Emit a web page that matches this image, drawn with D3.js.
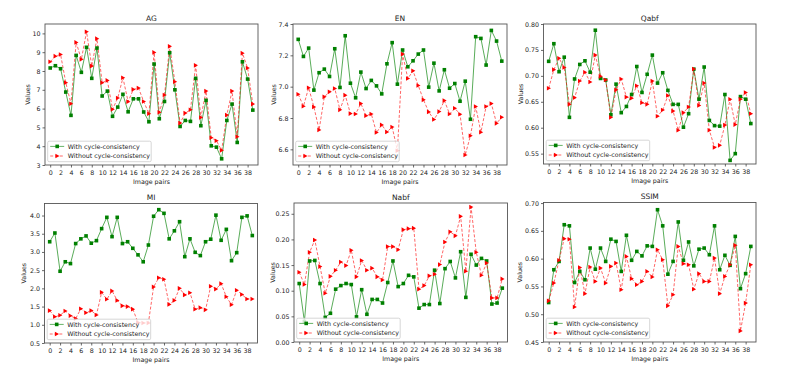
<!DOCTYPE html>
<html><head><meta charset="utf-8">
<script src="https://cdn.jsdelivr.net/npm/d3@7"></script>
<style>body{margin:0;background:#fff}svg{display:block}</style>
</head><body>
<svg id="c" width="807" height="376"></svg>
<script>
const imagePairs = [0,1,2,3,4,5,6,7,8,9,10,11,12,13,14,15,16,17,18,19,20,21,22,23,24,25,26,27,28,29,30,31,32,33,34,35,36,37,38,39];
const xTickValues = [0,2,4,6,8,10,12,14,16,18,20,22,24,26,28,30,32,34,36,38];
const seriesNames = ["With cycle-consistency", "Without cycle-consistency"];

const agWith = [8.16,8.28,8.12,6.88,5.64,8.83,7.93,9.26,7.61,9.22,6.67,6.93,5.59,6.08,6.76,5.83,6.52,6.52,5.82,5.30,8.37,5.46,6.38,8.97,7.00,5.05,5.37,5.32,7.61,5.09,6.44,4.02,3.95,3.33,5.37,6.24,4.20,8.49,7.57,5.92];
const agWithout = [8.49,8.79,8.88,7.38,6.26,9.52,8.62,10.09,8.26,9.72,7.38,7.50,5.96,6.56,7.64,6.37,7.02,7.09,6.38,5.73,8.99,5.80,6.72,9.31,7.43,5.23,5.76,5.94,8.30,5.53,6.93,4.45,4.29,3.78,5.66,6.93,4.50,8.95,8.16,6.24];
const agTicks = [3,4,5,6,7,8,9,10];

const enWith = [7.302,7.193,7.246,6.978,7.089,7.112,7.065,7.242,6.995,7.325,7.022,6.929,7.093,6.988,7.040,7.005,6.954,7.146,7.281,7.016,7.234,7.127,7.165,7.208,7.234,6.997,7.150,6.973,7.108,6.990,7.020,6.907,7.035,6.792,7.319,7.308,7.138,7.359,7.291,7.163];
const enWithout = [6.952,6.875,6.993,6.871,6.724,6.935,6.967,6.988,6.852,6.946,6.828,6.826,6.892,6.815,6.826,6.707,6.756,6.711,6.743,6.591,7.208,7.052,7.101,7.007,6.916,6.839,6.790,6.841,6.911,6.826,6.862,6.824,6.564,6.687,6.873,6.709,6.873,6.892,6.766,6.805];
const enTicks = [6.6,6.8,7.0,7.2,7.4];

const qabfWith = [0.728,0.762,0.708,0.736,0.620,0.694,0.722,0.729,0.707,0.788,0.695,0.692,0.625,0.684,0.629,0.641,0.664,0.718,0.668,0.703,0.740,0.686,0.706,0.672,0.645,0.645,0.601,0.627,0.713,0.655,0.717,0.614,0.604,0.603,0.664,0.537,0.550,0.660,0.655,0.608];
const qabfWithout = [0.676,0.712,0.734,0.716,0.645,0.658,0.690,0.707,0.688,0.740,0.699,0.692,0.620,0.673,0.694,0.659,0.657,0.681,0.648,0.645,0.690,0.622,0.634,0.662,0.632,0.595,0.629,0.640,0.713,0.643,0.686,0.595,0.562,0.566,0.605,0.655,0.606,0.655,0.668,0.627];
const qabfTicks = [0.55,0.60,0.65,0.70,0.75,0.80];

const miWith = [3.28,3.52,2.47,2.73,2.68,3.23,3.36,3.44,3.24,3.31,3.64,3.95,3.42,3.95,3.23,3.28,3.10,2.92,2.73,3.19,3.98,4.16,4.06,3.36,3.58,3.83,2.87,3.36,2.99,2.90,3.28,3.35,4.01,3.32,3.62,2.76,2.98,3.95,3.99,3.45];
const miWithout = [1.39,1.22,1.26,1.38,1.25,1.17,1.44,1.33,1.39,1.27,1.89,1.70,1.93,1.67,1.52,1.50,1.43,1.06,1.05,1.05,2.04,2.29,2.25,1.56,1.67,2.00,1.82,1.88,1.43,1.47,1.41,2.06,1.98,2.13,1.77,1.55,1.95,1.83,1.71,1.71];
const miTicks = [0.5,1.0,1.5,2.0,2.5,3.0,3.5,4.0];

const nabfWith = [0.114,0.040,0.158,0.159,0.114,0.048,0.056,0.103,0.110,0.114,0.112,0.049,0.102,0.054,0.083,0.083,0.076,0.116,0.158,0.108,0.114,0.130,0.127,0.066,0.073,0.073,0.140,0.075,0.143,0.157,0.125,0.176,0.087,0.171,0.150,0.163,0.158,0.074,0.076,0.105];
const nabfWithout = [0.136,0.112,0.175,0.199,0.147,0.095,0.128,0.140,0.156,0.149,0.179,0.127,0.159,0.140,0.144,0.127,0.121,0.186,0.186,0.180,0.219,0.221,0.222,0.103,0.110,0.129,0.132,0.151,0.195,0.215,0.207,0.245,0.138,0.263,0.175,0.130,0.154,0.086,0.086,0.123];
const nabfTicks = [0.00,0.05,0.10,0.15,0.20,0.25];

const ssimWith = [0.521,0.580,0.595,0.661,0.659,0.557,0.577,0.562,0.619,0.581,0.619,0.595,0.635,0.631,0.577,0.642,0.597,0.613,0.605,0.623,0.622,0.688,0.659,0.572,0.595,0.666,0.597,0.630,0.587,0.617,0.619,0.607,0.659,0.580,0.606,0.588,0.640,0.546,0.573,0.622];
const ssimWithout = [0.524,0.556,0.597,0.636,0.635,0.513,0.584,0.537,0.585,0.559,0.583,0.556,0.586,0.592,0.544,0.604,0.564,0.553,0.559,0.577,0.567,0.616,0.598,0.515,0.535,0.622,0.591,0.589,0.545,0.573,0.559,0.559,0.601,0.537,0.568,0.589,0.624,0.470,0.520,0.589];
const ssimTicks = [0.45,0.50,0.55,0.60,0.65,0.70];

// layout (positions only)
const panels = [
  {title:"AG",   w:agWith,   wo:agWithout,   ticks:agTicks,   fmt:"d",   dom:[3,10.5],    L:45,    T:24,  R:258,   B:165,   ylx:27.5},
  {title:"EN",   w:enWith,   wo:enWithout,   ticks:enTicks,   fmt:".1f", dom:[6.5,7.4],   L:293,   T:24,  R:507,   B:165,   ylx:274},
  {title:"Qabf", w:qabfWith, wo:qabfWithout, ticks:qabfTicks, fmt:".2f", dom:[0.53,0.80], L:543.5, T:24,  R:756,   B:164,   ylx:520.5},
  {title:"MI",   w:miWith,   wo:miWithout,   ticks:miTicks,   fmt:".1f", dom:[0.5,4.33],  L:44.5,  T:203.5,R:257.5,B:343,   ylx:24},
  {title:"Nabf", w:nabfWith, wo:nabfWithout, ticks:nabfTicks, fmt:".2f", dom:[0,0.271],   L:294,   T:203, R:507.5, B:342,   ylx:272.5},
  {title:"SSIM", w:ssimWith, wo:ssimWithout, ticks:ssimTicks, fmt:".2f", dom:[0.45,0.701],L:543.5, T:202.5,R:756,  B:342,   ylx:520}
];

const svg = d3.select("#c");
const FONT = "DejaVu Sans, sans-serif";
const FS = 6.3;
const GREEN = "#008000", RED = "#ff0000";

function sq(g, x, y) {
  g.append("rect").attr("x", x - 1.8).attr("y", y - 1.8).attr("width", 3.6).attr("height", 3.6).attr("fill", GREEN);
}
function tri(g, x, y) {
  g.append("path").attr("d", `M${x+2.3},${y}L${x-1.8},${y-2.3}L${x-1.8},${y+2.3}Z`).attr("fill", RED);
}

panels.forEach(p => {
  const x = d3.scaleLinear().domain([-1, 40]).range([p.L, p.R]);
  const y = d3.scaleLinear().domain(p.dom).range([p.B, p.T]);
  const g = svg.append("g");

  const clipId = "clip" + p.title;
  svg.append("clipPath").attr("id", clipId).append("rect")
    .attr("x", p.L).attr("y", p.T).attr("width", p.R - p.L).attr("height", p.B - p.T);
  const plot = g.append("g").attr("clip-path", `url(#${clipId})`);

  const line = d3.line().x((d, i) => x(imagePairs[i])).y(d => y(d));
  plot.append("path").datum(p.w).attr("d", line).attr("fill", "none")
    .attr("stroke", GREEN).attr("stroke-width", 1).attr("stroke-opacity", 0.65);
  plot.append("path").datum(p.wo).attr("d", line).attr("fill", "none")
    .attr("stroke", RED).attr("stroke-width", 1).attr("stroke-opacity", 0.6).attr("stroke-dasharray", "3,1.8");
  p.w.forEach((v, i) => sq(plot, x(imagePairs[i]), y(v)));
  p.wo.forEach((v, i) => tri(plot, x(imagePairs[i]), y(v)));

  // legend
  const lx = p.L + 2.7, lw = 103.5, lh = 20.5, ly = p.B - 3.3 - lh;
  const leg = g.append("g");
  leg.append("rect").attr("x", lx).attr("y", ly).attr("width", lw).attr("height", lh)
    .attr("rx", 1.5).attr("fill", "#fff").attr("fill-opacity", 0.8).attr("stroke", "#cccccc").attr("stroke-width", 0.8);
  [0, 1].forEach(k => {
    const yy = ly + 5.2 + k * 9.6;
    const l = leg.append("line").attr("x1", lx + 2.5).attr("x2", lx + 16.5).attr("y1", yy).attr("y2", yy)
      .attr("stroke", k ? RED : GREEN).attr("stroke-width", 1).attr("stroke-opacity", 0.6);
    if (k) { l.attr("stroke-dasharray", "3,1.8"); tri(leg, lx + 9.5, yy); } else { sq(leg, lx + 9.5, yy); }
    leg.append("text").attr("x", lx + 20).attr("y", yy).attr("dy", "0.35em")
      .attr("font-family", FONT).attr("font-size", FS).attr("fill", "#222").text(seriesNames[k]);
  });

  // frame
  g.append("rect").attr("x", p.L).attr("y", p.T).attr("width", p.R - p.L).attr("height", p.B - p.T)
    .attr("fill", "none").attr("stroke", "#555").attr("stroke-width", 0.9);

  // axes
  const ax = g.append("g").attr("transform", `translate(0,${p.B})`)
    .call(d3.axisBottom(x).tickValues(xTickValues).tickSize(2.5).tickPadding(3.2).tickFormat(d3.format("d")));
  const ay = g.append("g").attr("transform", `translate(${p.L},0)`)
    .call(d3.axisLeft(y).tickValues(p.ticks).tickSize(2.5).tickPadding(2).tickFormat(d3.format(p.fmt)));
  [ax, ay].forEach(a => {
    a.select(".domain").remove();
    a.selectAll("line").attr("stroke", "#444").attr("stroke-width", 0.8);
    a.selectAll("text").attr("font-family", FONT).attr("font-size", FS).attr("fill", "#222");
  });

  // labels
  g.append("text").attr("x", (p.L + p.R) / 2).attr("y", p.T - 3.5).attr("text-anchor", "middle")
    .attr("font-family", FONT).attr("font-size", 7.5).attr("fill", "#222").text(p.title);
  g.append("text").attr("x", (p.L + p.R) / 2).attr("y", p.B + 19).attr("text-anchor", "middle")
    .attr("font-family", FONT).attr("font-size", FS).attr("fill", "#222").text("Image pairs");
  g.append("text").attr("transform", `translate(${p.ylx},${(p.T + p.B) / 2}) rotate(-90)`)
    .attr("text-anchor", "middle").attr("dy", "0.35em")
    .attr("font-family", FONT).attr("font-size", FS).attr("fill", "#222").text("Values");
});
</script>
</body></html>
